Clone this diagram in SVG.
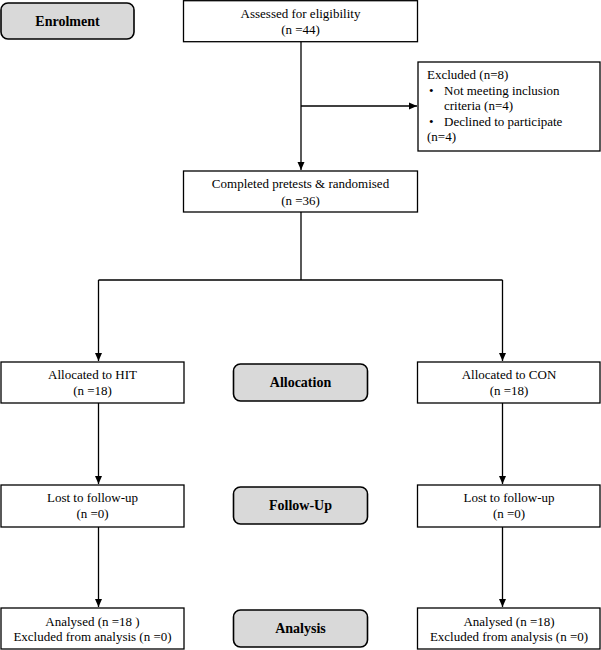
<svg xmlns="http://www.w3.org/2000/svg" width="601" height="650" viewBox="0 0 601 650">
<style>
.box{fill:#fff;stroke:#000;stroke-width:1.3}
.stage{fill:#d9d9d9;stroke:#000;stroke-width:1.6}
text{font-family:'Liberation Serif','Times New Roman',Times,'DejaVu Serif',serif;fill:#000}
.t{font-size:13px}
.c{text-anchor:middle}
.b{font-size:14px;font-weight:bold;text-anchor:middle}
.ln{fill:none;stroke:#000;stroke-width:1.3}
</style>
<defs>
<marker id="ah" markerUnits="userSpaceOnUse" markerWidth="8" markerHeight="8" refX="8" refY="4" orient="auto">
<path d="M0,0.5 L8,4 L0,7.5 z" fill="#000"/>
</marker>
</defs>
<rect width="601" height="650" fill="#fff"/>
<g id="connectors">
<path class="ln" d="M301 42 V170" marker-end="url(#ah)"/>
<path class="ln" d="M301 106 H417" marker-end="url(#ah)"/>
<path class="ln" d="M301 212 V280 M98.5 280 H502.5"/>
<path class="ln" d="M98.5 280 V361" marker-end="url(#ah)"/>
<path class="ln" d="M502.5 280 V361" marker-end="url(#ah)"/>
<path class="ln" d="M98.5 403 V484" marker-end="url(#ah)"/>
<path class="ln" d="M502.5 403 V484" marker-end="url(#ah)"/>
<path class="ln" d="M98.5 527 V607" marker-end="url(#ah)"/>
<path class="ln" d="M502.5 527 V607" marker-end="url(#ah)"/>
</g>
<g id="enrolment">
<rect class="stage" x="1" y="3" width="133" height="36" rx="7"/>
<text class="b" x="67.5" y="26" font-family="Liberation Serif, serif">Enrolment</text>
</g>
<g id="assessed">
<rect class="box" x="183.5" y="0.7" width="234" height="41"/>
<text class="t c" x="300.5" y="18">Assessed for eligibility</text>
<text class="t c" x="300.5" y="34">(n =44)</text>
</g>
<g id="excluded">
<rect class="box" x="418" y="62" width="182" height="89"/>
<text class="t" x="427" y="79">Excluded (n=8)</text>
<text class="t" x="429" y="95">•</text>
<text class="t" x="444" y="95">Not meeting inclusion</text>
<text class="t" x="444" y="110">criteria (n=4)</text>
<text class="t" x="429" y="126">•</text>
<text class="t" x="444" y="126">Declined to participate</text>
<text class="t" x="427" y="141">(n=4)</text>
</g>
<g id="completed">
<rect class="box" x="183.5" y="171" width="234" height="41"/>
<text class="t c" x="300.5" y="188">Completed pretests &amp; randomised</text>
<text class="t c" x="300.5" y="205">(n =36)</text>
</g>
<g id="hit">
<rect class="box" x="1" y="362" width="183" height="41"/>
<text class="t c" x="92.5" y="379">Allocated to HIT</text>
<text class="t c" x="92.5" y="395">(n =18)</text>
</g>
<g id="allocation">
<rect class="stage" x="233.5" y="364" width="134" height="37" rx="7"/>
<text class="b" x="300.5" y="387">Allocation</text>
</g>
<g id="con">
<rect class="box" x="417.5" y="362" width="182.5" height="41"/>
<text class="t c" x="509" y="379">Allocated to CON</text>
<text class="t c" x="509" y="395">(n =18)</text>
</g>
<g id="lost-hit">
<rect class="box" x="1" y="485" width="183" height="42"/>
<text class="t c" x="92.5" y="502">Lost to follow-up</text>
<text class="t c" x="92.5" y="518">(n =0)</text>
</g>
<g id="followup">
<rect class="stage" x="233.5" y="487" width="134" height="37" rx="7"/>
<text class="b" x="300.5" y="510">Follow-Up</text>
</g>
<g id="lost-con">
<rect class="box" x="417.5" y="485" width="182.5" height="42"/>
<text class="t c" x="509" y="502">Lost to follow-up</text>
<text class="t c" x="509" y="518">(n =0)</text>
</g>
<g id="analysed-hit">
<rect class="box" x="1" y="608" width="183" height="41"/>
<text class="t c" x="92.5" y="626">Analysed (n =18 )</text>
<text class="t c" x="92.5" y="641">Excluded from analysis (n =0)</text>
</g>
<g id="analysis">
<rect class="stage" x="233.5" y="610" width="134" height="37" rx="7"/>
<text class="b" x="300.5" y="633">Analysis</text>
</g>
<g id="analysed-con">
<rect class="box" x="417.5" y="608" width="182.5" height="41"/>
<text class="t c" x="509" y="626">Analysed (n =18)</text>
<text class="t c" x="509" y="641">Excluded from analysis (n =0)</text>
</g>
</svg>
